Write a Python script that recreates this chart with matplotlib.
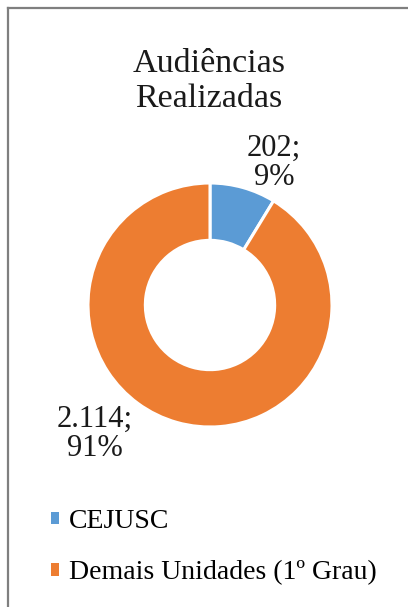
import matplotlib

matplotlib.use("Agg")
import matplotlib.pyplot as plt
from matplotlib.lines import Line2D
from matplotlib.patches import Patch

plt.rcParams["font.family"] = ["Liberation Serif", "DejaVu Serif"]

categories = ["CEJUSC", "Demais Unidades (1º Grau)"]
values = [202, 2114]
value_labels = ["202;\n9%", "2.114;\n91%"]
colors = ["#5B9BD5", "#ED7D31"]
title = "Audiências\nRealizadas"

W, H = 408, 607
fig = plt.figure(figsize=(W / 100, H / 100), dpi=100)


def fx(px):
    return px / W


def fy(py):
    return 1 - py / H


# frame (only top and left edges visible in the crop)
fig.add_artist(Line2D([fx(8), 1], [fy(8), fy(8)], color="#7f7f7f", lw=1.6))
fig.add_artist(Line2D([fx(8), fx(8)], [fy(8), 0], color="#7f7f7f", lw=1.6))

fig.text(fx(209), fy(81), title, ha="center", va="center", fontsize=24.5,
         linespacing=1.2, color="#1a1a1a")

cx, cy, r = 210, 305, 122
ax = fig.add_axes([fx(cx - r), fy(cy + r), 2 * r / W, 2 * r / H])
wedges, _ = ax.pie(values, colors=colors, startangle=90, counterclock=False,
                   radius=1.0, wedgeprops=dict(width=0.47, edgecolor="white", linewidth=2.2))
ax.set_xlim(-1, 1)
ax.set_ylim(-1, 1)
ax.set_axis_off()

fig.text(fx(274), fy(163), value_labels[0], ha="center", va="center",
         fontsize=22, linespacing=1.03, color="#1a1a1a")
fig.text(fx(95), fy(434), value_labels[1], ha="center", va="center",
         fontsize=22, linespacing=1.03, color="#1a1a1a")

handles = [Patch(facecolor=c, edgecolor="none") for c in colors]
fig.legend(handles, categories, loc="upper left", bbox_to_anchor=(fx(40), fy(498)),
           frameon=False, fontsize=20, handlelength=0.3, handleheight=0.3,
           handletextpad=0.35, labelspacing=0.95, borderaxespad=0)

fig.savefig("out.png", dpi=100)
